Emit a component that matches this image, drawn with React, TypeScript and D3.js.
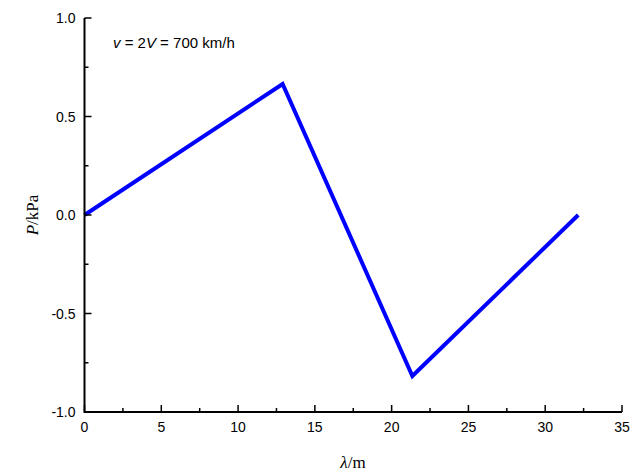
import React from "react";
import * as d3 from "d3";

const lambdaValues = [0, 12.9, 21.35, 32.15];
const pressureValues = [0, 0.665, -0.817, 0];
const xTicks = [0, 5, 10, 15, 20, 25, 30, 35];
const xMinorTicks = [2.5, 7.5, 12.5, 17.5, 22.5, 27.5, 32.5];
const yTicks = [-1.0, -0.5, 0.0, 0.5, 1.0];
const yMinorTicks = [-0.75, -0.25, 0.25, 0.75];

const W = 644;
const H = 475;
const M = { left: 84.5, right: 622, top: 18, bottom: 412 };

export default function App() {
  const x = d3.scaleLinear().domain([0, 35]).range([M.left, M.right]);
  const y = d3.scaleLinear().domain([-1, 1]).range([M.bottom, M.top]);
  const pts = lambdaValues.map((v, i) => [v, pressureValues[i]] as [number, number]);
  const line = d3
    .line<[number, number]>()
    .x((d) => x(d[0]))
    .y((d) => y(d[1]));
  const sans = "'Liberation Sans', Arial, sans-serif";
  const serif = "'Liberation Serif', 'Times New Roman', serif";
  return (
    <svg
      width={W}
      height={H}
      style={{ position: "absolute", left: 0, top: 0, background: "#fff" }}
    >
      <path d={line(pts) || ""} fill="none" stroke="#0000ff" strokeWidth={4} strokeLinejoin="miter" />
      {/* axes */}
      <line x1={M.left} x2={M.right} y1={M.bottom} y2={M.bottom} stroke="#000" strokeWidth={2} />
      <line x1={M.left} x2={M.left} y1={M.top} y2={M.bottom + 1} stroke="#000" strokeWidth={2} />
      {xTicks.map((t) => (
        <g key={"xt" + t}>
          <line x1={x(t)} x2={x(t)} y1={M.bottom} y2={M.bottom - 7} stroke="#000" strokeWidth={1.5} />
          <text x={x(t)} y={M.bottom + 20} textAnchor="middle" fontFamily={sans} fontSize={14}>
            {t}
          </text>
        </g>
      ))}
      {xMinorTicks.map((t) => (
        <line key={"xm" + t} x1={x(t)} x2={x(t)} y1={M.bottom} y2={M.bottom - 4} stroke="#000" strokeWidth={1.5} />
      ))}
      {yTicks.map((t) => (
        <g key={"yt" + t}>
          <line x1={M.left} x2={M.left + 7} y1={y(t)} y2={y(t)} stroke="#000" strokeWidth={1.5} />
          <text x={M.left - 9} y={y(t) + 5} textAnchor="end" fontFamily={sans} fontSize={14}>
            {t.toFixed(1)}
          </text>
        </g>
      ))}
      {yMinorTicks.map((t) => (
        <line key={"ym" + t} x1={M.left} x2={M.left + 4} y1={y(t)} y2={y(t)} stroke="#000" strokeWidth={1.5} />
      ))}
      <text x={353} y={468} textAnchor="middle" fontFamily={serif} fontSize={17}>
        <tspan fontStyle="italic">λ</tspan>/m
      </text>
      <text
        transform={`translate(38, ${y(0)}) rotate(-90)`}
        textAnchor="middle"
        fontFamily={serif}
        fontSize={17}
      >
        <tspan fontStyle="italic">P</tspan>/kPa
      </text>
      <text x={113} y={48} fontFamily={sans} fontSize={15}>
        <tspan fontStyle="italic">v</tspan> = 2<tspan fontStyle="italic">V</tspan> = 700 km/h
      </text>
    </svg>
  );
}
